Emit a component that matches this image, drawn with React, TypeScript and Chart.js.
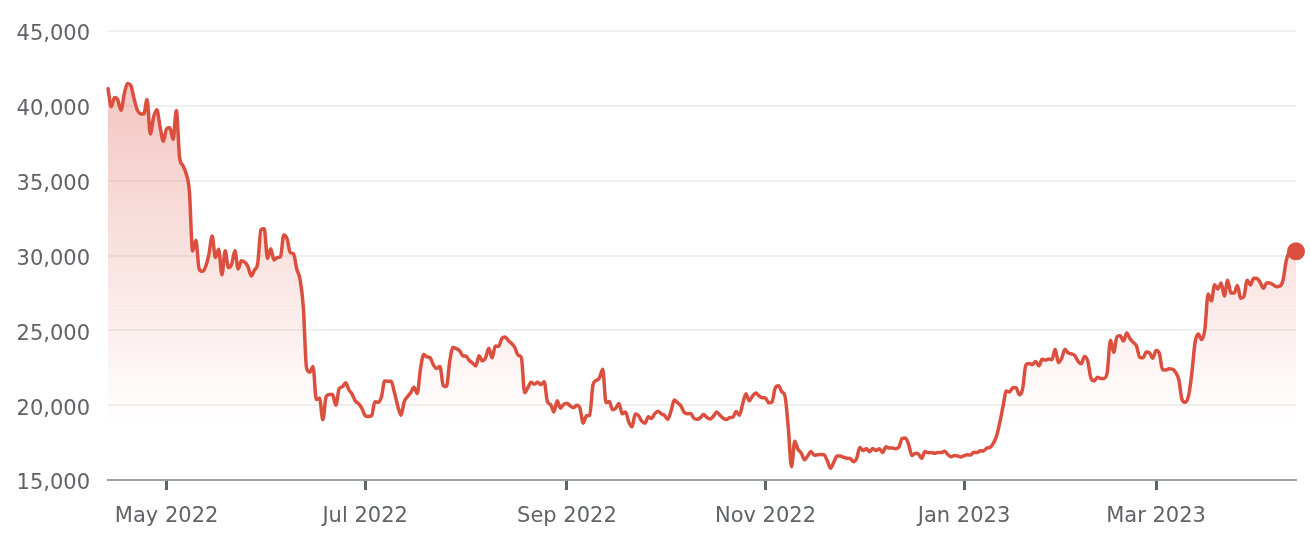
import React, { useEffect, useRef } from 'react';
import { Chart, registerables } from 'chart.js';

Chart.register(...registerables);

// Daily closing values, starting 2022-04-13
const startDate = '2022-04-13';
const apr2022 = [41150, 39940, 40550, 40400, 39700, 40800, 41500, 41370, 40480, 39710, 39470, 39450, 40430, 38120, 39240, 39740, 38600, 37640];
const may2022 = [38470, 38530, 37750, 39690, 36550, 36010, 35470, 34300, 30300, 31020, 29100, 28940, 29280, 30080, 31300, 29860, 30420, 28720, 30310, 29200, 29430, 30320, 29100, 29650, 29560, 29270, 28630, 29030, 29470, 31730, 31790];
const jun2022 = [29800, 30450, 29700, 29860, 29910, 31370, 31130, 30200, 30110, 29090, 28420, 26570, 22490, 22200, 22580, 20380, 20470, 19020, 20550, 20720, 20710, 19990, 21090, 21230, 21500, 21030, 20740, 20280, 20100, 19780];
const jul2022 = [19300, 19240, 19300, 20230, 20190, 20550, 21620, 21590, 21590, 20850, 19970, 19330, 20210, 20570, 20830, 21190, 20780, 22430, 23390, 23230, 23160, 22680, 22450, 22580, 21310, 21250, 22950, 23850, 23780, 23640, 23300];
const aug2022 = [23270, 22990, 22820, 22620, 23310, 22960, 23170, 23810, 23160, 23950, 23930, 24450, 24550, 24310, 24120, 23850, 23340, 23190, 20830, 21170, 21530, 21400, 21530, 21370, 21560, 20240, 20040, 19550, 20290, 19800, 20050];
const sep2022 = [20130, 19950, 19830, 19990, 19800, 18800, 19290, 19320, 21360, 21650, 21830, 22400, 20180, 20240, 19700, 19800, 20110, 19420, 19540, 18880, 18550, 19410, 19300, 18930, 18800, 19220, 19110, 19430, 19590, 19420];
const oct2022 = [19310, 19050, 19630, 20340, 20160, 19960, 19530, 19420, 19450, 19130, 19060, 19160, 19380, 19180, 19070, 19260, 19550, 19330, 19130, 19040, 19170, 19200, 19570, 19330, 20090, 20770, 20290, 20600, 20810, 20630, 20490];
const nov2022 = [20480, 20160, 20210, 21150, 21300, 20910, 20600, 18540, 15880, 17590, 17040, 16800, 16350, 16620, 16900, 16660, 16690, 16700, 16690, 16280, 15780, 16190, 16600, 16600, 16520, 16460, 16440, 16220, 16440, 17170];
const dec2022 = [16970, 17090, 16890, 17110, 16970, 17090, 16840, 17220, 17130, 17130, 17090, 17200, 17780, 17810, 17360, 16630, 16780, 16740, 16440, 16900, 16820, 16830, 16780, 16840, 16830, 16920, 16710, 16550, 16630, 16600, 16540];
const jan2023 = [16620, 16680, 16670, 16850, 16830, 16950, 16940, 17130, 17180, 17440, 17940, 18850, 19930, 20950, 20880, 21170, 21160, 20690, 21080, 22680, 22780, 22710, 22920, 22630, 23060, 23010, 23080, 23030, 23740, 22840, 23130];
const feb2023 = [23730, 23490, 23430, 23330, 22940, 22760, 23250, 22960, 21800, 21630, 21860, 21790, 21790, 22200, 24330, 23530, 24570, 24630, 24280, 24830, 24440, 24190, 23950, 23190, 23160, 23550, 23490, 23140];
const mar2023 = [23650, 23470, 22360, 22350, 22430, 22410, 22200, 21700, 20360, 20190, 20630, 22160, 24200, 24750, 24380, 25050, 27420, 26970, 28040, 27770, 28170, 27300, 28350, 27490, 27490, 28000, 27140, 27270, 28350, 28030, 28480];
const apr2023 = [28470, 28200, 27810, 28170, 28170, 28040, 27920, 27950, 28330, 29650, 30230, 30100, 30280];

const prices = [
  ...apr2022, ...may2022, ...jun2022, ...jul2022, ...aug2022, ...sep2022,
  ...oct2022, ...nov2022, ...dec2022, ...jan2023, ...feb2023, ...mar2023, ...apr2023,
];

const tickDates = ['2022-05-01', '2022-07-01', '2022-09-01', '2022-11-01', '2023-01-01', '2023-03-01'];
const tickLabels = ['May 2022', 'Jul 2022', 'Sep 2022', 'Nov 2022', 'Jan 2023', 'Mar 2023'];

const yMin = 15000;
const yMax = 45000;
const yStep = 5000;

const LINE = '#db4f3f';
const TEXT = '#5f6368';
const FONT = '"DejaVu Sans", sans-serif';

const dayIndex = (d: string) =>
  Math.round((Date.parse(d + 'T00:00:00Z') - Date.parse(startDate + 'T00:00:00Z')) / 86400000);

export default function App() {
  const canvasRef = useRef<HTMLCanvasElement | null>(null);

  useEffect(() => {
    const canvas = canvasRef.current;
    if (!canvas) return;
    const points = prices.map((v, i) => ({ x: i, y: v }));
    const lastIndex = prices.length - 1;
    const tickValues = tickDates.map(dayIndex);

    const chart = new Chart(canvas, {
      type: 'line',
      data: {
        datasets: [
          {
            data: points,
            borderColor: LINE,
            borderWidth: 3.5,
            borderJoinStyle: 'round',
            borderCapStyle: 'round',
            cubicInterpolationMode: 'monotone',
            fill: 'start',
            clip: false as any,
            backgroundColor: (ctx: any) => {
              const c = ctx.chart;
              const area = c.chartArea;
              const ys = c.scales?.y;
              if (!area || !ys) return 'rgba(219,79,63,0.15)';
              const g = c.ctx.createLinearGradient(0, ys.getPixelForValue(42000), 0, ys.getPixelForValue(18600));
              g.addColorStop(0, 'rgba(219,79,63,0.33)');
              g.addColorStop(1, 'rgba(219,79,63,0)');
              return g;
            },
            pointRadius: (ctx: any) => (ctx.dataIndex === lastIndex ? 9 : 0),
            pointHoverRadius: (ctx: any) => (ctx.dataIndex === lastIndex ? 9 : 0),
            pointBackgroundColor: LINE,
            pointBorderColor: LINE,
            pointBorderWidth: 0,
          },
        ],
      },
      options: {
        responsive: false,
        animation: false,
        events: [],
        layout: { padding: { top: 31, right: 14, bottom: 0, left: 0 } },
        plugins: {
          legend: { display: false },
          tooltip: { enabled: false },
        },
        scales: {
          x: {
            type: 'linear',
            min: 0,
            max: lastIndex,
            afterBuildTicks: (axis: any) => {
              axis.ticks = tickValues.map((v) => ({ value: v }));
            },
            afterFit: (scale: any) => {
              scale.height = 70;
            },
            ticks: {
              autoSkip: false,
              maxRotation: 0,
              padding: 14,
              color: TEXT,
              font: { family: FONT, size: 21 },
              callback: (value: any) => {
                const i = tickValues.indexOf(Number(value));
                return i >= 0 ? tickLabels[i] : '';
              },
            },
            grid: {
              drawOnChartArea: false,
              drawTicks: true,
              tickLength: 10,
              tickWidth: 3,
              tickColor: TEXT,
            },
            border: { display: true, color: '#9aa0a6', width: 2 },
          },
          y: {
            min: yMin,
            max: yMax,
            afterFit: (scale: any) => {
              scale.width = 108;
            },
            ticks: {
              stepSize: yStep,
              padding: 18,
              labelOffset: 4,
              color: TEXT,
              font: { family: FONT, size: 21 },
              callback: (value: any) => Number(value).toLocaleString('en-US'),
            },
            grid: {
              color: '#f0f0f0',
              lineWidth: 2,
              drawTicks: false,
            },
            border: { display: false },
          },
        },
      },
    });

    return () => {
      chart.destroy();
    };
  }, []);

  return (
    <div style={{ position: 'fixed', left: 0, top: 0, width: 1310, height: 550, background: '#ffffff' }}>
      <canvas ref={canvasRef} width={1310} height={550} style={{ display: 'block' }} />
    </div>
  );
}
